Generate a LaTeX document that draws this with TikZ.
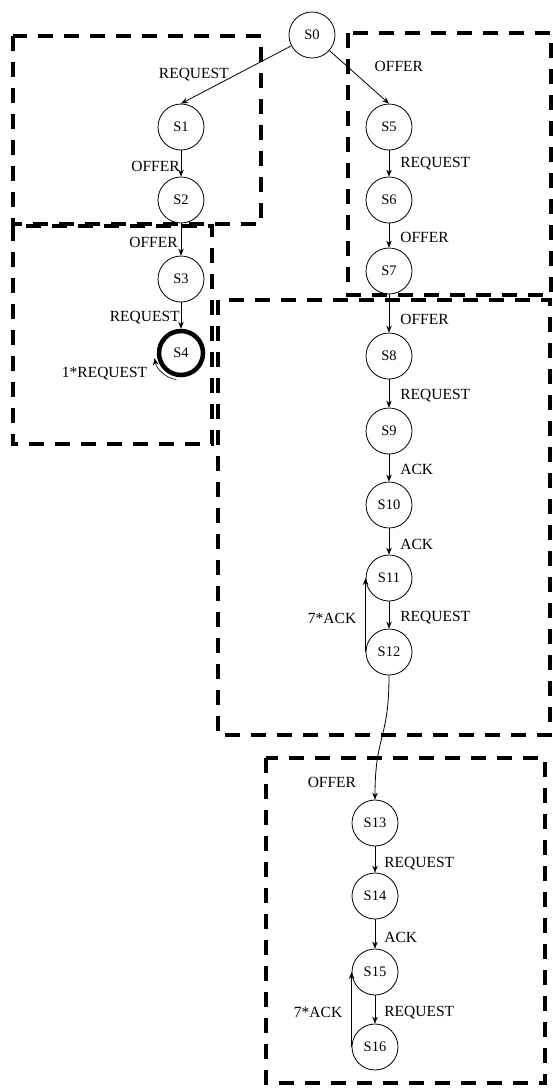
\documentclass[tikz,border=0pt]{standalone}
\usepackage{fontspec}
\setmainfont{Liberation Serif}
\usetikzlibrary{arrows.meta, positioning}

\tikzset{
  state/.style={circle, draw, line width=0.8pt, minimum size=46pt, inner sep=0pt,
    font=\fontsize{14.5}{16}\selectfont},
  final/.style={state, line width=4.5pt, minimum size=44pt},
  lbl/.style={font=\fontsize{15.5}{17}\selectfont, inner sep=1pt},
  region/.style={line width=3.2pt, dash pattern=on 15pt off 11pt},
  trans/.style={->, line width=0.8pt},
}

\begin{document}
\begin{tikzpicture}[x=1pt, y=1pt, >={Stealth[length=7pt,width=5.5pt]}]
  \useasboundingbox (0,0) rectangle (553,-1088);

  % Dashed regions
  \draw[region] (13,-36) rectangle (261,-224);
  \draw[region] (13,-226) rectangle (212,-444);
  \draw[region] (348,-33) rectangle (551,-295);
  \draw[region] (218,-300) rectangle (550,-735);
  \draw[region] (266,-758) rectangle (545,-1083);

  % States
  \node[state] (S0) at (312,-35) {S0};
  \node[state] (S1) at (181,-127) {S1};
  \node[state] (S2) at (181,-200) {S2};
  \node[state] (S3) at (181,-279) {S3};
  \node[final] (S4) at (181,-353) {S4};
  \node[state] (S5) at (389,-127) {S5};
  \node[state] (S6) at (389,-200) {S6};
  \node[state] (S7) at (389,-271) {S7};
  \node[state] (S8) at (389,-356) {S8};
  \node[state] (S9) at (389,-431) {S9};
  \node[state] (S10) at (389,-505) {S10};
  \node[state] (S11) at (389,-578) {S11};
  \node[state] (S12) at (389,-652) {S12};
  \node[state] (S13) at (375,-823) {S13};
  \node[state] (S14) at (375,-896) {S14};
  \node[state] (S15) at (375,-972) {S15};
  \node[state] (S16) at (375,-1047) {S16};

  % Left branch
  \draw[trans] (S0) -- (S1.north) node[lbl, midway, left=6pt] (t01) {REQUEST};
  \draw[trans] (S1) -- (S2) node[lbl, midway, left=0pt, yshift=-3pt] (t12) {OFFER};
  \draw[trans] (S2) -- (S3) node[lbl, midway, left=2pt, yshift=-3pt] (t23) {OFFER};
  \draw[trans] (S3) -- (S4) node[lbl, midway, left=0pt, yshift=-2pt] (t34) {REQUEST};
  \draw[->, line width=0.6pt] ([shift={(-100:27pt)}]S4.center)
    arc[start angle=-100, end angle=-169, radius=27pt]
    node[lbl, below left=8pt and 6pt] (t44) {1*REQUEST};

  % Right branch
  \draw[trans] (S0) -- (S5.north) node[lbl, pos=0.3, right=26pt] (t05) {OFFER};
  \draw[trans] (S5) -- (S6) node[lbl, midway, right=10pt] (t56) {REQUEST};
  \draw[trans] (S6) -- (S7) node[lbl, midway, right=10pt, yshift=-2pt] (t67) {OFFER};
  \draw[trans] (S7) -- (S8) node[lbl, midway, right=10pt, yshift=-6pt] (t78) {OFFER};
  \draw[trans] (S8) -- (S9) node[lbl, midway, right=10pt, yshift=-2pt] (t89) {REQUEST};
  \draw[trans] (S9) -- (S10) node[lbl, midway, right=10pt, yshift=-1pt] (t910) {ACK};
  \draw[trans] (S10) -- (S11) node[lbl, midway, right=10pt, yshift=-3pt] (t1011) {ACK};
  \draw[trans] (S11) -- (S12) node[lbl, midway, right=10pt, yshift=-3pt] (t1112) {REQUEST};
  \draw[trans] (S12.west) -- (S11.west) node[lbl, midway, left=8pt, yshift=-3pt] (t1211) {7*ACK};
  \draw[trans] (S12.south) .. controls +(0,-65) and +(0,65) .. (S13.north)
    node[lbl, pos=0.9, left=18pt] (t1213) {OFFER};

  % Bottom part
  \draw[trans] (S13) -- (S14) node[lbl, midway, right=8pt, yshift=-4pt] (t1314) {REQUEST};
  \draw[trans] (S14) -- (S15) node[lbl, midway, right=8pt, yshift=-3pt] (t1415) {ACK};
  \draw[trans] (S15) -- (S16) node[lbl, midway, right=8pt, yshift=-3pt] (t1516) {REQUEST};
  \draw[trans] (S16.west) -- (S15.west) node[lbl, midway, left=8pt, yshift=-3pt] (t1615) {7*ACK};
\end{tikzpicture}
\end{document}
